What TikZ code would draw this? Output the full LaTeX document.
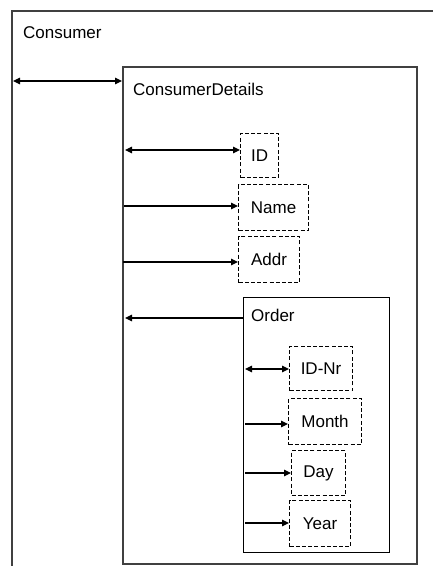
\documentclass[tikz,border=0pt]{standalone}
\usepackage{fontspec}
\setmainfont{Liberation Sans}
\usetikzlibrary{arrows.meta}
\begin{document}
\begin{tikzpicture}[x=1pt,y=-1pt,
  font=\fontsize{17}{20}\selectfont,
  tip/.tip={Triangle[length=7pt,width=6.5pt]},
  bigbox/.style={draw=black!75,line width=1.6pt,anchor=north west,inner sep=0pt},
  midbox/.style={draw=black,line width=1.2pt,anchor=north west,inner sep=0pt},
  fld/.style={draw=black,line width=1.1pt,dash pattern=on 4pt off 2.2pt,anchor=north west,inner sep=0pt,align=center},
  lbl/.style={anchor=west,inner sep=0pt},
  conn/.style={line width=1.1pt,-tip},
  biconn/.style={line width=1.1pt,tip-tip},
  backconn/.style={line width=1.1pt,tip-}
]
\useasboundingbox (0,0) rectangle (433,566);
\clip (0,0) rectangle (433,566);
\fill[white] (0,0) rectangle (433,566);
% boxes
\node[bigbox,minimum width=440pt,minimum height=600pt] (cons) at (11,10) {};
\node[lbl] (consl) at (23,33) {Consumer};
\node[bigbox,minimum width=294pt,minimum height=497pt] (det) at (122,66) {};
\node[lbl] (detl) at (133,89) {ConsumerDetails};
\node[fld,minimum width=38pt,minimum height=44pt] (id) at (240,133) {ID};
\node[fld,minimum width=70pt,minimum height=46pt] (name) at (238,184) {Name};
\node[fld,minimum width=61pt,minimum height=46pt] (addr) at (238,236) {Addr};
\node[midbox,minimum width=146pt,minimum height=255pt] (ord) at (243,297) {};
\node[lbl] (ordl) at (251,315) {Order};
\node[fld,minimum width=63pt,minimum height=44pt] (idnr) at (289,346) {ID-Nr};
\node[fld,minimum width=73pt,minimum height=46pt] (month) at (288,398) {Month};
\node[fld,minimum width=54pt,minimum height=45pt] (day) at (291,450) {Day};
\node[fld,minimum width=61pt,minimum height=46pt] (year) at (289,500) {Year};
% connector start points
\coordinate (c0) at (13,81);
\coordinate (c1) at (125,150);
\coordinate (c2) at (124,206);
\coordinate (c3) at (123,262);
\coordinate (c4) at (125,318);
\coordinate (c5) at (245,369);
\coordinate (c6) at (245,424);
\coordinate (c7) at (245,473);
\coordinate (c8) at (245,523);
% connectors
\draw[biconn] (c0) -- (c0 -| det.west);
\draw[biconn] (c1) -- (c1 -| id.west);
\draw[conn] (c2) -- (c2 -| name.west);
\draw[conn] (c3) -- (c3 -| addr.west);
\draw[backconn] (c4) -- (c4 -| ord.west);
\draw[biconn] (c5) -- (c5 -| idnr.west);
\draw[conn] (c6) -- (c6 -| month.west);
\draw[conn] (c7) -- (c7 -| day.west);
\draw[conn] (c8) -- (c8 -| year.west);
\end{tikzpicture}
\end{document}
